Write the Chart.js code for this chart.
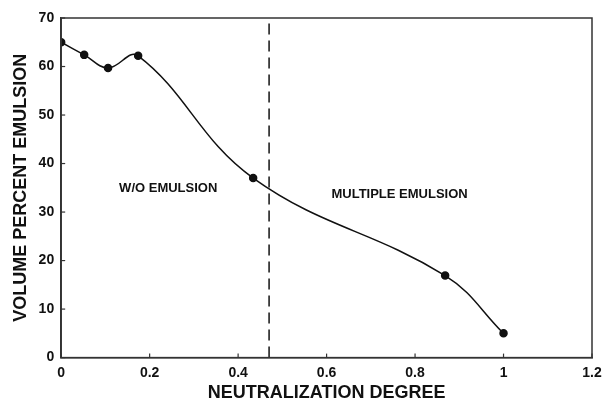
<!DOCTYPE html>
<html>
<head>
<meta charset="utf-8">
<script src="https://cdn.jsdelivr.net/npm/chart.js@4"></script>
<style>
    html, body { margin: 0; padding: 0; background: #fff; }
    #wrap { width: 605px; height: 412px; }
</style>
</head>
<body>
<div id="wrap"><canvas id="chart"></canvas></div>
<script>
const neutralization = [0, 0.052, 0.106, 0.174, 0.434, 0.868, 1.0];
const volumePercent = [65, 62.4, 59.7, 62.2, 37.0, 16.9, 5.0];
const boundaryX = [0.47, 0.47];
const boundaryY = [0, 70];
const regionLabels = ['W/O EMULSION', 'MULTIPLE EMULSION'];
const regionX = [0.242, 0.765];
const regionY = [34.9, 33.7];

const FONT = '"Liberation Sans", Arial, sans-serif';

// box around the plot plus inward tick marks
const frame = {
    id: 'frame',
    afterDraw(chart) {
        const { ctx, chartArea: a, scales } = chart;
        ctx.save();
        ctx.strokeStyle = '#333';
        ctx.lineWidth = 1.5;
        ctx.strokeRect(a.left, a.top, a.right - a.left, a.bottom - a.top);
        ctx.lineWidth = 1.2;
        scales.x.ticks.forEach(t => {
            const px = scales.x.getPixelForValue(t.value);
            ctx.beginPath();
            ctx.moveTo(px, a.bottom);
            ctx.lineTo(px, a.bottom - 4);
            ctx.stroke();
        });
        scales.y.ticks.forEach(t => {
            const py = scales.y.getPixelForValue(t.value);
            ctx.beginPath();
            ctx.moveTo(a.left, py);
            ctx.lineTo(a.left + 4, py);
            ctx.stroke();
        });
        ctx.fillStyle = '#111';
        ctx.font = 'bold 13px ' + FONT;
        ctx.textAlign = 'center';
        ctx.textBaseline = 'middle';
        regionLabels.forEach((txt, i) => {
            ctx.fillText(txt, scales.x.getPixelForValue(regionX[i]), scales.y.getPixelForValue(regionY[i]));
        });
        ctx.restore();
    }
};

new Chart(document.getElementById('chart'), {
    type: 'scatter',
    data: {
        datasets: [
            {
                data: neutralization.map((x, i) => ({ x, y: volumePercent[i] })),
                showLine: true,
                tension: 0.4,
                borderColor: '#111',
                borderWidth: 1.5,
                pointRadius: 3.5,
                pointBackgroundColor: '#111',
                pointBorderColor: '#111',
            },
            {
                data: boundaryX.map((x, i) => ({ x, y: boundaryY[i] })),
                showLine: true,
                borderColor: '#111',
                borderWidth: 1.5,
                borderDash: [11, 6],
                pointRadius: 0,
            },
        ],
    },
    options: {
        responsive: true,
        maintainAspectRatio: false,
        animation: false,
        layout: { autoPadding: false, padding: { left: 10, right: 13, top: 18, bottom: 8 } },
        plugins: { legend: { display: false }, tooltip: { enabled: false } },
        scales: {
            x: {
                min: 0,
                max: 1.2,
                afterFit: s => { s.paddingRight = 0; },
                ticks: {
                    stepSize: 0.2,
                    color: '#111',
                    font: { family: FONT, size: 14, weight: 'bold' },
                    padding: 7,
                    callback: v => Math.round(v * 10) / 10,
                },
                grid: { drawOnChartArea: false, drawTicks: false },
                border: { color: '#333', width: 1.5 },
                title: {
                    display: true,
                    text: 'NEUTRALIZATION DEGREE',
                    color: '#111',
                    font: { family: FONT, size: 18, weight: 'bold' },
                    padding: { top: -6, bottom: 0 },
                },
            },
            y: {
                min: 0,
                max: 70,
                ticks: {
                    stepSize: 10,
                    color: '#111',
                    font: { family: FONT, size: 14, weight: 'bold' },
                    padding: 7,
                },
                grid: { drawOnChartArea: false, drawTicks: false },
                border: { color: '#333', width: 1.5 },
                title: {
                    display: true,
                    text: 'VOLUME PERCENT EMULSION',
                    color: '#111',
                    font: { family: FONT, size: 18, weight: 'bold' },
                    padding: { top: 0, bottom: 0 },
                },
            },
        },
    },
    plugins: [frame],
});
</script>
</body>
</html>
